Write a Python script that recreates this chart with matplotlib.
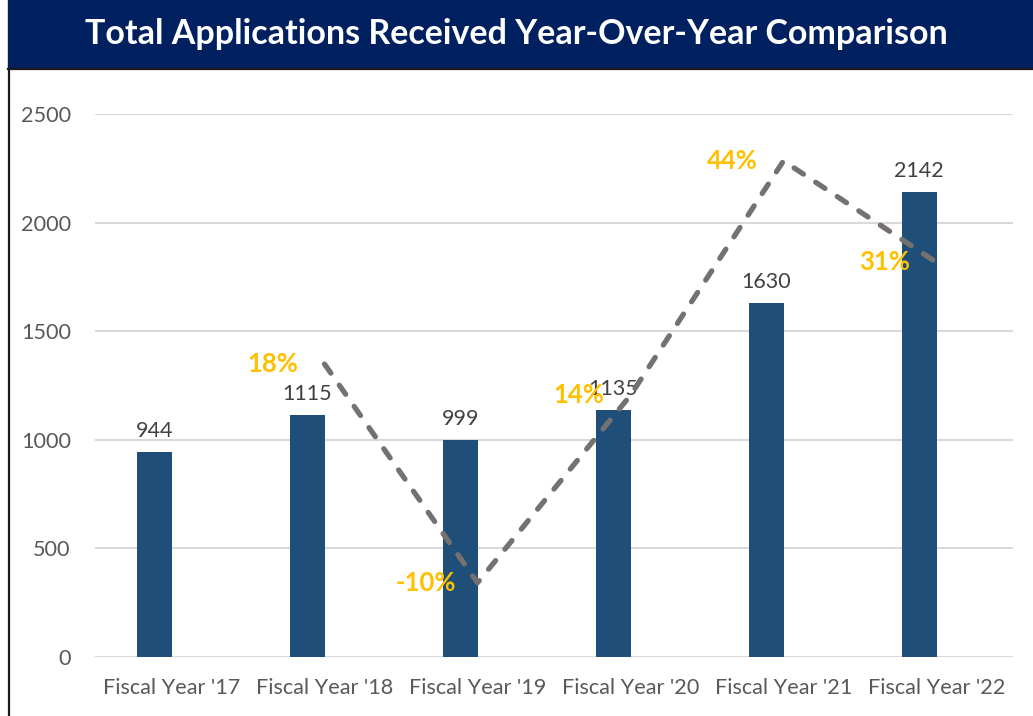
from matplotlib import pyplot as plt
from matplotlib.patches import Rectangle
from matplotlib.lines import Line2D
import numpy as np

years = ["Fiscal Year '17", "Fiscal Year '18", "Fiscal Year '19",
         "Fiscal Year '20", "Fiscal Year '21", "Fiscal Year '22"]
applications = [944, 1115, 999, 1135, 1630, 2142]
# year-over-year change, from '18 onwards
pct_change = [0.18, -0.10, 0.14, 0.44, 0.31]
pct_labels = ['18%', '-10%', '14%', '44%', '31%']

plt.rcParams['font.family'] = ['Lato', 'DejaVu Sans']

fig = plt.figure(figsize=(10.33, 7.16), dpi=100)

# title banner and frame
fig.patches.append(Rectangle((8 / 1033, 648 / 716), 1 - 8 / 1033, 68 / 716,
                             transform=fig.transFigure, color='#002060', zorder=0))
fig.lines.append(Line2D([8 / 1033, 1], [647 / 716, 647 / 716], transform=fig.transFigure,
                        color='#1a1a1a', lw=1.6))
fig.lines.append(Line2D([9 / 1033, 9 / 1033], [0, 647 / 716], transform=fig.transFigure,
                        color='#1a1a1a', lw=1.6))
fig.text(0.5, 682 / 716, 'Total Applications Received Year-Over-Year Comparison',
         ha='center', va='center', color='white', fontsize=24.5, fontweight='bold')

ax = fig.add_axes([95 / 1033, 59 / 716, 918 / 1033, 543 / 716])
x = np.arange(len(years))
bars = ax.bar(x - 0.225, applications, width=0.225, align='edge', color='#1F4E79', zorder=2)
for xi, v in zip(x, applications):
    ax.annotate(str(v), (xi - 0.1125, v), xytext=(0, 8), textcoords='offset points',
                ha='center', va='bottom', fontsize=15.5, color='#404040', zorder=5)

ax.set_xlim(-0.5, len(years) - 0.5)
ax.set_ylim(0, 2500)
ax.set_yticks(range(0, 2501, 500))
ax.set_xticks(x)
ax.set_xticklabels(years)
ax.tick_params(axis='both', length=0, labelsize=15.6, labelcolor='#595959')
ax.tick_params(axis='y', pad=17.5)
ax.tick_params(axis='x', pad=15)
ax.grid(axis='y', color='#D9D9D9', lw=1.5, zorder=0)
ax.set_axisbelow(True)
for s in ax.spines.values():
    s.set_visible(False)

# percent change on hidden secondary axis
ax2 = ax.twinx()
ax2.set_ylim(-0.195, 0.5)
ax2.axis('off')
ax2.plot(x[1:], pct_change, color='#767171', lw=3.8, linestyle=(0, (2.1, 2.8)),
         dash_capstyle='round', zorder=3)
for xi, p, lab in zip(x[1:], pct_change, pct_labels):
    ax2.annotate(lab, (xi, p), xytext=(-37, 0), textcoords='offset points',
                 ha='center', va='center', fontsize=18.5, fontweight='bold', color='#FFC000')

plt.savefig('out.png', dpi=100)
